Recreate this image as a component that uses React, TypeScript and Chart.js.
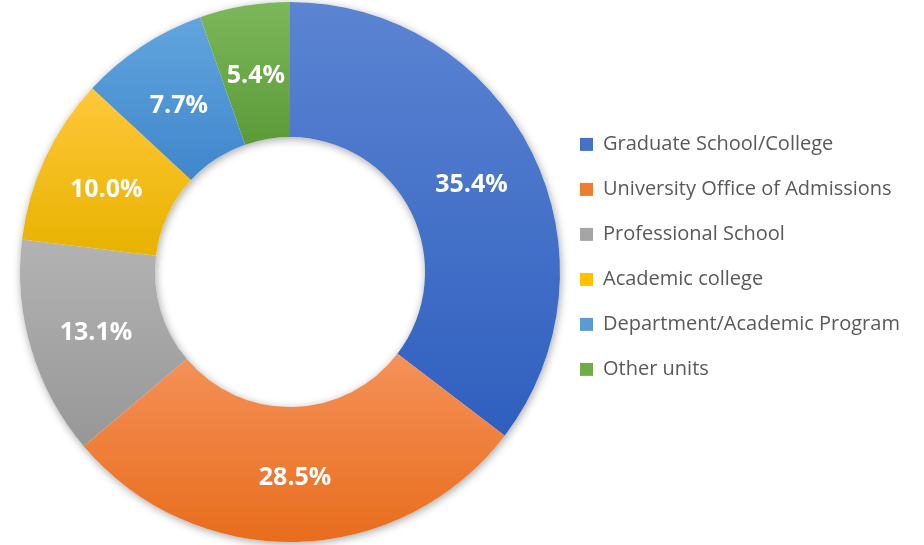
import { useEffect, useRef } from 'react';
import { Chart, registerables } from 'chart.js';

Chart.register(...registerables);

const categories = [
  'Graduate School/College',
  'University Office of Admissions',
  'Professional School',
  'Academic college',
  'Department/Academic Program',
  'Other units',
];
const shares = [35.4, 28.5, 13.1, 10.0, 7.7, 5.4];

const legendColors = ['#4472c4', '#ed7d31', '#a5a5a5', '#ffc000', '#5b9bd5', '#70ad47'];
const topColors = ['#5b84d2', '#f59159', '#b3b3b3', '#ffc83a', '#62a5de', '#7cb85a'];
const bottomColors = ['#2f5fbf', '#e86d1c', '#979797', '#e8b200', '#3f86cb', '#5c9a38'];

const LEGEND_FAMILY = "'Open Sans', 'Liberation Sans', sans-serif";
const LEGEND_SIZE = 20;
const LABEL_FONT = "bold 25px 'Open Sans', 'Liberation Sans', sans-serif";

function sliceGradient(c: any) {
  const chart = c.chart;
  const i = c.dataIndex;
  const area = chart.chartArea;
  if (!area || i === undefined) return legendColors[i ?? 0];
  const cx = (area.left + area.right) / 2;
  const cy = (area.top + area.bottom) / 2;
  const R = Math.min(area.width, area.height) / 2;
  const r = R * 0.5;
  const total = shares.reduce((a, b) => a + b, 0);
  let start = -Math.PI / 2;
  for (let k = 0; k < i; k++) start += (2 * Math.PI * shares[k]) / total;
  const end = start + (2 * Math.PI * shares[i]) / total;
  const ys: number[] = [];
  for (const a of [start, end]) for (const rad of [r, R]) ys.push(cy + rad * Math.sin(a));
  if (start <= Math.PI / 2 && end >= Math.PI / 2) ys.push(cy + R);
  if (start <= -Math.PI / 2 + 1e-9 || end >= 1.5 * Math.PI - 1e-9) ys.push(cy - R);
  const minY = Math.min(...ys);
  const maxY = Math.max(...ys);
  const g = chart.ctx.createLinearGradient(0, minY, 0, Math.max(maxY, minY + 1));
  g.addColorStop(0, topColors[i]);
  g.addColorStop(1, bottomColors[i]);
  return g;
}

const shadowPlugin = {
  id: 'ringShadow',
  beforeDatasetsDraw(chart: any) {
    const meta = chart.getDatasetMeta(0);
    const arc = meta.data[0];
    if (!arc) return;
    const { x, y, outerRadius, innerRadius } = arc;
    const ctx = chart.ctx;
    ctx.save();
    ctx.shadowColor = 'rgba(0,0,0,0.35)';
    ctx.shadowBlur = 8;
    ctx.shadowOffsetX = 1;
    ctx.shadowOffsetY = 2;
    ctx.beginPath();
    ctx.arc(x, y, outerRadius, 0, Math.PI * 2);
    ctx.arc(x, y, innerRadius, 0, Math.PI * 2, true);
    ctx.fillStyle = '#ffffff';
    ctx.fill();
    ctx.restore();
  },
};

const labelPlugin = {
  id: 'sliceLabels',
  afterDatasetsDraw(chart: any) {
    const meta = chart.getDatasetMeta(0);
    const ctx = chart.ctx;
    ctx.save();
    ctx.font = LABEL_FONT;
    ctx.fillStyle = '#ffffff';
    ctx.textAlign = 'center';
    ctx.textBaseline = 'middle';
    meta.data.forEach((arc: any, i: number) => {
      const p = arc.tooltipPosition();
      ctx.fillText(shares[i].toFixed(1) + '%', p.x, p.y + 3);
    });
    ctx.restore();
  },
};

export default function App() {
  const ref = useRef<HTMLCanvasElement | null>(null);

  useEffect(() => {
    const canvas = ref.current;
    if (!canvas) return;

    const m = document.createElement('canvas').getContext('2d')!;
    m.font = `${LEGEND_SIZE}px ${LEGEND_FAMILY}`;
    const textW = Math.max(...categories.map((t) => m.measureText(t).width));
    const padRight = Math.max(0, 311 - textW);

    const chart = new Chart(canvas, {
      type: 'doughnut',
      data: {
        labels: categories,
        datasets: [
          {
            data: shares,
            backgroundColor: sliceGradient as any,
            borderWidth: 0,
            hoverOffset: 0,
          },
        ],
      },
      options: {
        responsive: false,
        animation: false,
        cutout: '50%',
        layout: { padding: { top: 2, bottom: 3, left: 20, right: padRight } },
        plugins: {
          tooltip: { enabled: false },
          legend: {
            position: 'right',
            align: 'start',
            title: {
              display: true,
              text: '',
              font: { size: 10, lineHeight: 1 },
              padding: { top: 102.4, bottom: 0 },
            },
            labels: {
              boxWidth: 13,
              boxHeight: 13,
              padding: 20,
              color: '#595959',
              font: { family: LEGEND_FAMILY, size: LEGEND_SIZE, lineHeight: '25px' as any },
              generateLabels: () =>
                categories.map((t, i) => ({
                  text: [t] as any,
                  fillStyle: legendColors[i],
                  strokeStyle: legendColors[i],
                  lineWidth: 0,
                  hidden: false,
                  index: i,
                  datasetIndex: 0,
                  fontColor: '#595959',
                })),
            },
          },
        },
      },
      plugins: [shadowPlugin, labelPlugin],
    });

    return () => chart.destroy();
  }, []);

  return (
    <div style={{ position: 'fixed', left: 0, top: 0, width: 924, height: 545, background: '#ffffff' }}>
      <canvas ref={ref} width={924} height={545} style={{ display: 'block', width: 924, height: 545 }} />
    </div>
  );
}
